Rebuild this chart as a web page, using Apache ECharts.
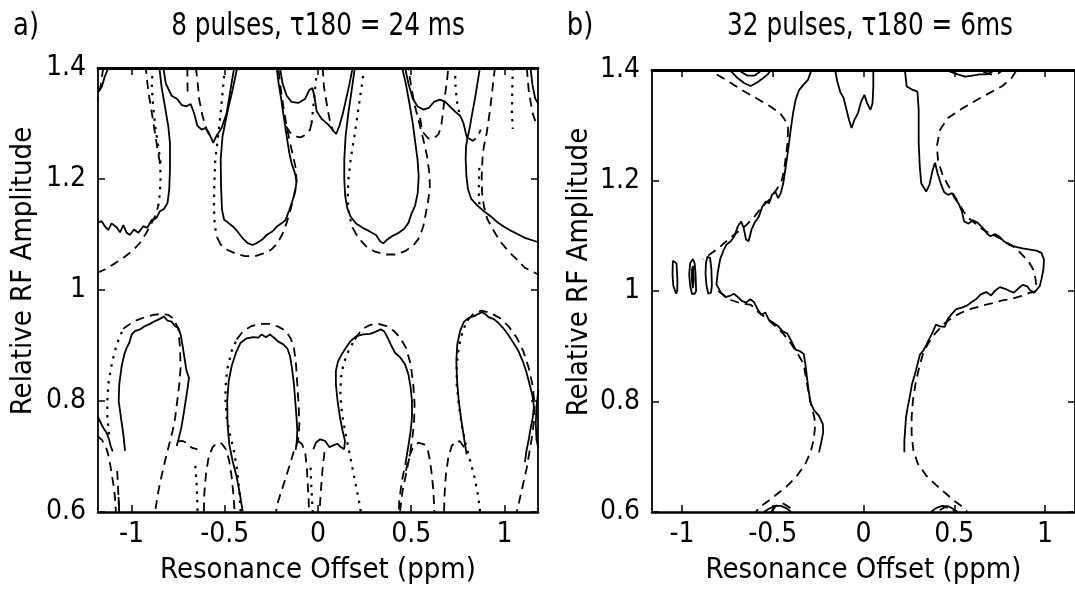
<!DOCTYPE html>
<html>
<head>
<meta charset="utf-8">
<title>Relative RF amplitude vs resonance offset</title>
<script src="https://cdn.jsdelivr.net/npm/echarts@6.0.0/dist/echarts.min.js"></script>
<style>
    html, body { margin: 0; padding: 0; background: #fff; }
    #chart { width: 1075px; height: 590px; }
</style>
</head>
<body>
<div id="chart"></div>
<script>
    // ticks
    const xTicks = [-1, -0.5, 0, 0.5, 1];
    const yTicks = [0.6, 0.8, 1, 1.2, 1.4];

    // ---- panel a) 8 pulses : upper half ----
    const aSolidCornerTL = [[-1.125, 1.40], [-1.143, 1.385], [-1.160, 1.366], [-1.184, 1.355]];
    const aDashCornerTL = [[-1.152, 1.40], [-1.165, 1.37], [-1.184, 1.34]];
    const aSolidEdgeLeft = [[-1.184, 1.121], [-1.160, 1.124], [-1.143, 1.115], [-1.125, 1.108], [-1.107, 1.120], [-1.080, 1.113], [-1.062, 1.104], [-1.044, 1.117], [-1.026, 1.103], [-1.009, 1.099], [-0.987, 1.109], [-0.964, 1.103], [-0.937, 1.115], [-0.916, 1.112], [-0.892, 1.126], [-0.866, 1.130], [-0.848, 1.142], [-0.826, 1.146], [-0.807, 1.157], [-0.798, 1.181], [-0.794, 1.217], [-0.794, 1.265], [-0.803, 1.295], [-0.821, 1.331], [-0.839, 1.366], [-0.851, 1.401]];
    const aSolidV1 = [[-0.830, 1.401], [-0.816, 1.372], [-0.785, 1.350], [-0.755, 1.344], [-0.730, 1.333], [-0.705, 1.331], [-0.683, 1.335], [-0.665, 1.319], [-0.647, 1.296], [-0.624, 1.289], [-0.605, 1.292], [-0.587, 1.284], [-0.569, 1.271], [-0.562, 1.265], [-0.544, 1.278], [-0.517, 1.292], [-0.490, 1.319], [-0.472, 1.355], [-0.458, 1.384], [-0.449, 1.401]];
    const aSolidHang1 = [[-0.433, 1.401], [-0.458, 1.361], [-0.487, 1.319], [-0.512, 1.277], [-0.522, 1.235], [-0.520, 1.187], [-0.515, 1.145], [-0.504, 1.127], [-0.481, 1.121], [-0.458, 1.115], [-0.433, 1.106], [-0.406, 1.094], [-0.379, 1.085], [-0.352, 1.081], [-0.326, 1.085], [-0.299, 1.091], [-0.272, 1.100], [-0.243, 1.106], [-0.218, 1.115], [-0.192, 1.121], [-0.174, 1.126], [-0.156, 1.142], [-0.138, 1.160], [-0.122, 1.178], [-0.115, 1.196], [-0.125, 1.212], [-0.140, 1.226], [-0.154, 1.247], [-0.168, 1.277], [-0.183, 1.310], [-0.197, 1.343], [-0.211, 1.372], [-0.222, 1.401]];
    const aSolidV2 = [[-0.204, 1.401], [-0.190, 1.372], [-0.168, 1.350], [-0.142, 1.339], [-0.106, 1.337], [-0.070, 1.344], [-0.047, 1.360], [-0.030, 1.364], [-0.020, 1.350], [-0.007, 1.322], [0.020, 1.308], [0.055, 1.298], [0.082, 1.287], [0.097, 1.281], [0.114, 1.295], [0.132, 1.316], [0.150, 1.343], [0.168, 1.370], [0.186, 1.401]];
    const aSolidHang2 = [[0.198, 1.401], [0.181, 1.361], [0.163, 1.319], [0.148, 1.277], [0.141, 1.235], [0.141, 1.199], [0.146, 1.169], [0.157, 1.148], [0.175, 1.132], [0.204, 1.120], [0.240, 1.112], [0.275, 1.106], [0.311, 1.099], [0.333, 1.088], [0.350, 1.084], [0.368, 1.090], [0.397, 1.097], [0.433, 1.103], [0.461, 1.110], [0.485, 1.121], [0.502, 1.138], [0.520, 1.151], [0.535, 1.175], [0.540, 1.205], [0.534, 1.235], [0.522, 1.265], [0.508, 1.301], [0.490, 1.337], [0.472, 1.370], [0.451, 1.401]];
    const aSolidV3 = [[0.467, 1.401], [0.485, 1.372], [0.508, 1.345], [0.533, 1.331], [0.565, 1.325], [0.594, 1.328], [0.622, 1.339], [0.654, 1.343], [0.683, 1.339], [0.712, 1.329], [0.737, 1.321], [0.762, 1.314], [0.780, 1.301], [0.794, 1.281], [0.801, 1.272], [0.812, 1.289], [0.826, 1.316], [0.844, 1.349], [0.858, 1.378], [0.869, 1.401]];
    const aSolidEdgeRight = [[0.801, 1.272], [0.794, 1.259], [0.792, 1.235], [0.796, 1.205], [0.805, 1.181], [0.822, 1.164], [0.855, 1.152], [0.890, 1.142], [0.926, 1.133], [0.962, 1.122], [0.998, 1.114], [1.039, 1.106], [1.075, 1.100], [1.110, 1.094], [1.182, 1.086]];
    const aSolidCornerTR = [[1.14, 1.40], [1.15, 1.37], [1.165, 1.345], [1.182, 1.335]];
    const aDotCornerTR = [[1.045, 1.40], [1.042, 1.36], [1.04, 1.32], [1.045, 1.29]];
    const aDashCornerTR = [[1.12, 1.40], [1.13, 1.36], [1.15, 1.32], [1.17, 1.30], [1.182, 1.295]];

    const aDashArcTL = [[-1.184, 1.031], [-1.143, 1.037], [-1.089, 1.048], [-1.036, 1.060], [-0.991, 1.072], [-0.955, 1.085], [-0.926, 1.100], [-0.901, 1.115], [-0.874, 1.133], [-0.857, 1.151]];
    const aDotArcTL = [[-0.857, 1.151], [-0.848, 1.175], [-0.844, 1.205], [-0.848, 1.229]];
    const aDashUpTL = [[-0.848, 1.229], [-0.866, 1.265], [-0.880, 1.295], [-0.894, 1.325], [-0.909, 1.355], [-0.919, 1.384], [-0.923, 1.401]];
    const aDotUpTL = [[-0.887, 1.401], [-0.891, 1.366], [-0.884, 1.331], [-0.873, 1.295], [-0.857, 1.259], [-0.844, 1.229]];
    const aDashGap1a = [[-0.701, 1.401], [-0.700, 1.37], [-0.699, 1.35]];
    const aDashGap1b = [[-0.655, 1.401], [-0.647, 1.378], [-0.637, 1.343], [-0.619, 1.313], [-0.597, 1.289], [-0.571, 1.271]];
    const aDotHang1 = [[-0.499, 1.401], [-0.512, 1.355], [-0.526, 1.307], [-0.540, 1.265], [-0.551, 1.235], [-0.556, 1.193], [-0.558, 1.151], [-0.554, 1.115], [-0.540, 1.094]];
    const aDashHang1 = [[-0.540, 1.094], [-0.522, 1.082], [-0.490, 1.073], [-0.445, 1.066], [-0.392, 1.061], [-0.338, 1.061], [-0.290, 1.066], [-0.249, 1.073], [-0.218, 1.084], [-0.192, 1.100], [-0.168, 1.121], [-0.147, 1.145], [-0.129, 1.169], [-0.115, 1.193], [-0.118, 1.217], [-0.133, 1.241], [-0.150, 1.265], [-0.168, 1.295], [-0.186, 1.331], [-0.201, 1.366], [-0.213, 1.401]];
    const aDashGap2 = [[-0.172, 1.295], [-0.150, 1.284], [-0.124, 1.277], [-0.093, 1.275], [-0.064, 1.280], [-0.043, 1.289], [-0.034, 1.301]];
    const aDotGap2 = [[-0.034, 1.301], [-0.025, 1.331], [-0.016, 1.361], [-0.007, 1.390]];
    const aDashGap2b = [[0.025, 1.401], [0.032, 1.366], [0.046, 1.337], [0.064, 1.304], [0.082, 1.286]];
    const aDotHang2 = [[0.247, 1.401], [0.234, 1.366], [0.216, 1.325], [0.195, 1.277], [0.175, 1.235], [0.163, 1.199], [0.159, 1.163], [0.168, 1.133], [0.186, 1.112]];
    const aDashHang2 = [[0.186, 1.112], [0.216, 1.094], [0.257, 1.079], [0.306, 1.069], [0.359, 1.064], [0.413, 1.064], [0.467, 1.070], [0.511, 1.080], [0.543, 1.094], [0.565, 1.115], [0.579, 1.139], [0.592, 1.163], [0.600, 1.187], [0.597, 1.211], [0.585, 1.241], [0.565, 1.271], [0.543, 1.301], [0.520, 1.331], [0.500, 1.366], [0.485, 1.401]];
    const aDashGap3 = [[0.547, 1.310], [0.561, 1.285], [0.592, 1.273], [0.622, 1.273], [0.647, 1.281], [0.662, 1.298], [0.672, 1.325], [0.683, 1.355], [0.694, 1.384], [0.699, 1.401]];
    const aDotGap3 = [[0.735, 1.401], [0.737, 1.37], [0.745, 1.34], [0.76, 1.315]];
    const aDashCurlV3 = [[0.806, 1.274], [0.830, 1.269], [0.855, 1.275], [0.873, 1.289]];
    const aDashHang3 = [[0.949, 1.401], [0.937, 1.366], [0.923, 1.325], [0.905, 1.283], [0.890, 1.259], [0.883, 1.241], [0.878, 1.205], [0.880, 1.175], [0.890, 1.151], [0.908, 1.128], [0.940, 1.108], [0.976, 1.088], [1.021, 1.070], [1.066, 1.055], [1.110, 1.040], [1.182, 1.028]];
    const aDotHang3 = [[0.865, 1.22], [0.862, 1.18], [0.866, 1.15]];

    // ---- panel a) lower half ----
    const aSolidLobe1 = [[-1.035, 0.710], [-1.044, 0.740], [-1.057, 0.770], [-1.069, 0.800], [-1.066, 0.830], [-1.053, 0.863], [-1.039, 0.884], [-1.026, 0.896], [-1.012, 0.905], [-0.999, 0.920], [-0.982, 0.926], [-0.955, 0.929], [-0.928, 0.935], [-0.901, 0.939], [-0.874, 0.944], [-0.848, 0.948], [-0.826, 0.952], [-0.808, 0.945], [-0.785, 0.943], [-0.767, 0.935], [-0.749, 0.932], [-0.737, 0.920], [-0.726, 0.899], [-0.715, 0.875], [-0.705, 0.854], [-0.692, 0.842], [-0.699, 0.824], [-0.710, 0.800], [-0.721, 0.776], [-0.733, 0.752], [-0.748, 0.731], [-0.758, 0.719]];
    const aSolidEdgeBL = [[-1.184, 0.773], [-1.170, 0.764], [-1.152, 0.752], [-1.134, 0.743], [-1.121, 0.731], [-1.112, 0.719], [-1.101, 0.709]];
    const aSolidStubBL = [[-1.07, 0.627], [-1.066, 0.60]];
    const aSolidLobe2 = [[-0.404, 0.601], [-0.419, 0.632], [-0.436, 0.663], [-0.458, 0.692], [-0.476, 0.722], [-0.485, 0.758], [-0.487, 0.800], [-0.479, 0.836], [-0.463, 0.863], [-0.440, 0.887], [-0.415, 0.905], [-0.383, 0.913], [-0.347, 0.915], [-0.320, 0.914], [-0.302, 0.920], [-0.279, 0.915], [-0.258, 0.920], [-0.236, 0.914], [-0.213, 0.907], [-0.186, 0.902], [-0.165, 0.895], [-0.150, 0.881], [-0.140, 0.860], [-0.129, 0.830], [-0.122, 0.800], [-0.115, 0.770], [-0.111, 0.746], [-0.115, 0.722], [-0.120, 0.712]];
    const aSolidBump = [[-0.025, 0.713], [-0.011, 0.725], [0.011, 0.731], [0.038, 0.728], [0.061, 0.717], [0.082, 0.720], [0.104, 0.723], [0.122, 0.717], [0.140, 0.713]];
    const aSolidLobe3 = [[0.140, 0.713], [0.145, 0.728], [0.132, 0.746], [0.118, 0.770], [0.105, 0.800], [0.096, 0.830], [0.096, 0.854], [0.107, 0.871], [0.127, 0.884], [0.150, 0.896], [0.175, 0.908], [0.207, 0.917], [0.243, 0.920], [0.279, 0.921], [0.311, 0.925], [0.336, 0.929], [0.354, 0.926], [0.372, 0.915], [0.390, 0.902], [0.413, 0.887], [0.440, 0.879], [0.467, 0.866], [0.485, 0.848], [0.497, 0.824], [0.504, 0.800], [0.504, 0.770], [0.497, 0.746], [0.486, 0.722], [0.476, 0.701]];
    const aSolidLobe4 = [[0.797, 0.704], [0.783, 0.734], [0.769, 0.764], [0.755, 0.800], [0.746, 0.836], [0.742, 0.872], [0.747, 0.902], [0.762, 0.926], [0.783, 0.943], [0.810, 0.950], [0.837, 0.953], [0.860, 0.957], [0.878, 0.960], [0.896, 0.957], [0.915, 0.951], [0.940, 0.948], [0.967, 0.941], [0.994, 0.931], [1.021, 0.919], [1.048, 0.905], [1.075, 0.890], [1.098, 0.872], [1.116, 0.854], [1.135, 0.830], [1.150, 0.810], [1.158, 0.790], [1.152, 0.770], [1.140, 0.750], [1.130, 0.730], [1.118, 0.710], [1.110, 0.690]];
    const aSolidEdgeBR = [[1.182, 0.82], [1.172, 0.79], [1.168, 0.76], [1.172, 0.73], [1.182, 0.715]];

    const aDotLobe1Left = [[-1.12, 0.74], [-1.13, 0.77], [-1.13, 0.80], [-1.125, 0.83], [-1.11, 0.86], [-1.09, 0.89], [-1.07, 0.91], [-1.045, 0.93]];
    const aDashLobe1 = [[-1.045, 0.93], [-0.991, 0.943], [-0.937, 0.950], [-0.883, 0.955], [-0.839, 0.957], [-0.803, 0.955], [-0.773, 0.948], [-0.749, 0.929], [-0.740, 0.896], [-0.737, 0.860], [-0.744, 0.830], [-0.755, 0.800], [-0.766, 0.770], [-0.780, 0.746], [-0.798, 0.722], [-0.816, 0.698], [-0.833, 0.674], [-0.848, 0.651], [-0.862, 0.627], [-0.873, 0.601]];
    const aDashEdgeBL = [[-1.184, 0.737], [-1.159, 0.730], [-1.137, 0.717], [-1.121, 0.698], [-1.109, 0.674], [-1.098, 0.651], [-1.089, 0.627], [-1.084, 0.601]];
    const aDashEdgeBL2 = [[-1.077, 0.674], [-1.072, 0.64], [-1.066, 0.601]];
    const aDashBridge1 = [[-0.755, 0.727], [-0.726, 0.728], [-0.701, 0.724], [-0.678, 0.716], [-0.647, 0.713]];
    const aDotLeg1 = [[-0.658, 0.683], [-0.651, 0.651], [-0.647, 0.615], [-0.646, 0.60]];
    const aDashArchA = [[-0.612, 0.601], [-0.610, 0.632], [-0.601, 0.668], [-0.587, 0.698], [-0.565, 0.717], [-0.540, 0.725], [-0.515, 0.723], [-0.494, 0.713], [-0.476, 0.692], [-0.463, 0.663], [-0.454, 0.632], [-0.447, 0.601]];
    const aDotLobe2Left = [[-0.415, 0.601], [-0.422, 0.639], [-0.433, 0.674], [-0.451, 0.710], [-0.472, 0.740], [-0.490, 0.770], [-0.497, 0.806], [-0.494, 0.836], [-0.485, 0.860], [-0.463, 0.890], [-0.436, 0.911]];
    const aDashLobe2 = [[-0.436, 0.911], [-0.401, 0.926], [-0.356, 0.935], [-0.308, 0.939], [-0.258, 0.939], [-0.213, 0.934], [-0.172, 0.926], [-0.147, 0.913], [-0.129, 0.896], [-0.118, 0.866], [-0.111, 0.830], [-0.104, 0.794], [-0.100, 0.758], [-0.107, 0.728], [-0.129, 0.710], [-0.150, 0.686], [-0.172, 0.663], [-0.195, 0.639], [-0.213, 0.620], [-0.225, 0.601]];
    const aDashMid1 = [[-0.107, 0.728], [-0.085, 0.722], [-0.068, 0.705], [-0.060, 0.68], [-0.055, 0.65], [-0.050, 0.62], [-0.048, 0.60]];
    const aDotMid = [[-0.04, 0.68], [-0.035, 0.64], [-0.028, 0.60]];
    const aDashMid2 = [[0.035, 0.708], [0.025, 0.68], [0.018, 0.65], [0.012, 0.62], [0.008, 0.60]];
    const aDotLobe3Left = [[0.229, 0.601], [0.216, 0.627], [0.198, 0.656], [0.181, 0.686], [0.163, 0.716], [0.145, 0.746], [0.129, 0.776], [0.120, 0.812], [0.123, 0.842], [0.136, 0.866], [0.163, 0.890], [0.198, 0.911]];
    const aDashLobe3 = [[0.198, 0.911], [0.234, 0.929], [0.279, 0.937], [0.324, 0.939], [0.368, 0.935], [0.408, 0.926], [0.440, 0.914], [0.472, 0.896], [0.497, 0.866], [0.511, 0.830], [0.518, 0.794], [0.515, 0.758], [0.504, 0.728], [0.490, 0.698], [0.472, 0.668], [0.454, 0.639], [0.440, 0.601]];
    const aDashLobe3Tail = [[0.476, 0.701], [0.467, 0.683], [0.454, 0.663], [0.443, 0.639], [0.436, 0.620], [0.433, 0.601]];
    const aDashArchB = [[0.472, 0.674], [0.486, 0.698], [0.508, 0.715], [0.538, 0.725], [0.569, 0.722], [0.590, 0.710], [0.601, 0.692], [0.610, 0.668], [0.619, 0.639], [0.624, 0.601]];
    const aDashArchC = [[0.676, 0.601], [0.679, 0.632], [0.686, 0.668], [0.699, 0.698], [0.717, 0.719], [0.740, 0.728], [0.762, 0.727], [0.779, 0.719], [0.794, 0.707]];
    const aDotLobe4Left = [[0.869, 0.601], [0.860, 0.627], [0.842, 0.659], [0.819, 0.689], [0.794, 0.719], [0.772, 0.755], [0.755, 0.794], [0.744, 0.830], [0.744, 0.866], [0.755, 0.896], [0.776, 0.926], [0.801, 0.945]];
    const aDashLobe4 = [[0.801, 0.945], [0.833, 0.957], [0.878, 0.963], [0.923, 0.959], [0.973, 0.950], [1.021, 0.935], [1.066, 0.914], [1.101, 0.890], [1.130, 0.860], [1.150, 0.830], [1.160, 0.800], [1.160, 0.770], [1.150, 0.740], [1.135, 0.710], [1.120, 0.680], [1.100, 0.650], [1.080, 0.620], [1.066, 0.600]];

    // ---- panel b) 32 pulses ----
    const bSolidMain = [[-0.290, 1.397], [-0.306, 1.382], [-0.331, 1.373], [-0.356, 1.363], [-0.374, 1.346], [-0.388, 1.322], [-0.401, 1.292], [-0.410, 1.268], [-0.420, 1.244], [-0.431, 1.219], [-0.442, 1.195], [-0.456, 1.177], [-0.470, 1.168], [-0.486, 1.180], [-0.504, 1.174], [-0.520, 1.159], [-0.538, 1.162], [-0.558, 1.152], [-0.576, 1.135], [-0.599, 1.124], [-0.617, 1.111], [-0.633, 1.090], [-0.647, 1.093], [-0.660, 1.114], [-0.674, 1.126], [-0.692, 1.117], [-0.710, 1.100], [-0.731, 1.090], [-0.755, 1.084], [-0.773, 1.072], [-0.790, 1.057], [-0.803, 1.033], [-0.810, 1.012], [-0.803, 1.009], [-0.785, 0.997], [-0.760, 0.989], [-0.737, 0.991], [-0.714, 0.995], [-0.692, 0.989], [-0.671, 0.982], [-0.647, 0.979], [-0.624, 0.985], [-0.603, 0.980], [-0.585, 0.968], [-0.563, 0.957], [-0.540, 0.961], [-0.522, 0.948], [-0.495, 0.942], [-0.469, 0.936], [-0.445, 0.927], [-0.420, 0.923], [-0.397, 0.909], [-0.374, 0.894], [-0.349, 0.891], [-0.329, 0.886], [-0.320, 0.867], [-0.311, 0.843], [-0.302, 0.819], [-0.292, 0.798], [-0.272, 0.784], [-0.245, 0.774], [-0.224, 0.759], [-0.222, 0.744], [-0.233, 0.726], [-0.245, 0.708]];
    const bDashDiag = [[-0.808, 1.392], [-0.728, 1.376], [-0.656, 1.361], [-0.585, 1.348], [-0.513, 1.334], [-0.460, 1.322], [-0.433, 1.310], [-0.415, 1.295]];
    const bDashUpper = [[-0.415, 1.295], [-0.418, 1.270], [-0.425, 1.250], [-0.437, 1.220], [-0.450, 1.200], [-0.480, 1.183], [-0.520, 1.165], [-0.560, 1.152], [-0.600, 1.135], [-0.650, 1.118], [-0.700, 1.105], [-0.750, 1.092], [-0.790, 1.080], [-0.830, 1.070], [-0.860, 1.063], [-0.885, 1.058]];
    const bDashLower = [[-0.800, 1.000], [-0.740, 0.985], [-0.680, 0.978], [-0.620, 0.975], [-0.580, 0.962], [-0.540, 0.952], [-0.490, 0.938], [-0.440, 0.922], [-0.400, 0.905], [-0.360, 0.885], [-0.330, 0.868], [-0.315, 0.840], [-0.300, 0.810], [-0.285, 0.790], [-0.270, 0.770], [-0.268, 0.750], [-0.275, 0.730], [-0.290, 0.710], [-0.320, 0.687], [-0.370, 0.664], [-0.424, 0.646], [-0.478, 0.632], [-0.528, 0.619], [-0.567, 0.610], [-0.594, 0.600]];
    const bSolidBlobBL = [[-0.55, 0.600], [-0.52, 0.606], [-0.49, 0.611], [-0.455, 0.611], [-0.42, 0.606], [-0.40, 0.600]];
    const bDashBlobBL = [[-0.51, 0.600], [-0.48, 0.612], [-0.44, 0.615], [-0.40, 0.607], [-0.385, 0.600]];
    const bSolidTopBlob = [[-0.728, 1.397], [-0.692, 1.385], [-0.656, 1.376], [-0.621, 1.371], [-0.588, 1.377], [-0.558, 1.384], [-0.528, 1.392], [-0.517, 1.397]];
    const bSolidTopBlobIn = [[-0.676, 1.397], [-0.64, 1.390], [-0.60, 1.390], [-0.57, 1.397]];
    const bLoop1 = [[-1.050, 1.055], [-1.040, 1.058], [-1.030, 1.050], [-1.025, 1.020], [-1.026, 1.000], [-1.032, 0.995], [-1.042, 0.996], [-1.048, 1.010], [-1.052, 1.030], [-1.050, 1.055]];
    const bLoop2 = [[-0.955, 1.050], [-0.940, 1.058], [-0.930, 1.050], [-0.925, 1.030], [-0.922, 1.000], [-0.930, 0.995], [-0.945, 0.995], [-0.955, 1.010], [-0.960, 1.030], [-0.955, 1.050]];
    const bLoop2In = [[-0.945, 1.040], [-0.938, 1.045], [-0.935, 1.020], [-0.940, 1.005], [-0.945, 1.020], [-0.945, 1.040]];
    const bLoop3 = [[-0.868, 1.050], [-0.860, 1.062], [-0.845, 1.060], [-0.838, 1.040], [-0.835, 1.010], [-0.840, 0.997], [-0.855, 0.995], [-0.865, 1.010], [-0.870, 1.030], [-0.868, 1.050]];
    const bSolidTopCenter = [[-0.156, 1.40], [-0.145, 1.38], [-0.128, 1.36], [-0.11, 1.35], [-0.095, 1.33], [-0.08, 1.31], [-0.066, 1.295], [-0.05, 1.31], [-0.03, 1.322], [-0.013, 1.343], [0.005, 1.355], [0.02, 1.34], [0.038, 1.328], [0.05, 1.34], [0.054, 1.37], [0.054, 1.40]];
    const bSolidRight = [[0.229, 1.397], [0.238, 1.370], [0.265, 1.365], [0.297, 1.361], [0.304, 1.328], [0.304, 1.268], [0.310, 1.225], [0.318, 1.195], [0.345, 1.180], [0.363, 1.192], [0.381, 1.219], [0.394, 1.232], [0.408, 1.213], [0.426, 1.194], [0.444, 1.179], [0.465, 1.174], [0.488, 1.177], [0.506, 1.166], [0.524, 1.158], [0.542, 1.144], [0.554, 1.126], [0.578, 1.122], [0.604, 1.128], [0.631, 1.123], [0.658, 1.114], [0.680, 1.104], [0.699, 1.099], [0.724, 1.103], [0.747, 1.099], [0.774, 1.090], [0.805, 1.083], [0.840, 1.080], [0.876, 1.077], [0.917, 1.075], [0.953, 1.073], [0.980, 1.069], [0.994, 1.057], [0.991, 1.039], [0.980, 1.021], [0.971, 1.009], [0.962, 1.009], [0.941, 0.997], [0.919, 1.001], [0.900, 1.009], [0.876, 1.011], [0.851, 1.004], [0.828, 0.997], [0.805, 1.000], [0.780, 1.004], [0.751, 1.007], [0.726, 1.001], [0.703, 0.992], [0.676, 0.998], [0.646, 0.994], [0.619, 0.985], [0.596, 0.980], [0.572, 0.974], [0.542, 0.970], [0.511, 0.967], [0.488, 0.959], [0.465, 0.950], [0.447, 0.935], [0.422, 0.936], [0.399, 0.939], [0.383, 0.927], [0.365, 0.915], [0.347, 0.903], [0.329, 0.892], [0.311, 0.885], [0.297, 0.867], [0.283, 0.849], [0.267, 0.831], [0.254, 0.807], [0.243, 0.789], [0.234, 0.771], [0.229, 0.747], [0.225, 0.729], [0.225, 0.708]];
    const bDashRight = [[0.840, 1.398], [0.815, 1.385], [0.765, 1.371], [0.703, 1.360], [0.626, 1.346], [0.547, 1.331], [0.465, 1.313], [0.422, 1.292], [0.404, 1.262], [0.411, 1.235], [0.434, 1.212], [0.461, 1.194], [0.494, 1.176], [0.524, 1.159], [0.551, 1.144], [0.578, 1.132], [0.613, 1.123], [0.658, 1.111], [0.712, 1.102], [0.765, 1.093], [0.819, 1.082], [0.864, 1.069], [0.908, 1.054], [0.935, 1.039], [0.948, 1.021], [0.953, 1.003], [0.940, 0.998], [0.917, 0.997], [0.872, 0.991], [0.819, 0.986], [0.765, 0.983], [0.712, 0.978], [0.649, 0.973], [0.596, 0.968], [0.547, 0.962], [0.497, 0.954], [0.444, 0.941], [0.394, 0.923], [0.358, 0.906], [0.329, 0.888], [0.306, 0.861], [0.286, 0.831], [0.272, 0.801], [0.265, 0.771], [0.265, 0.741], [0.275, 0.711], [0.300, 0.687], [0.345, 0.666], [0.399, 0.649], [0.452, 0.634], [0.501, 0.620], [0.542, 0.610], [0.572, 0.600]];
    const bSolidTopRight = [[0.47, 1.398], [0.52, 1.392], [0.56, 1.388], [0.60, 1.390], [0.64, 1.392], [0.68, 1.392], [0.71, 1.397]];
    const bDashTopRight = [[0.66, 1.396], [0.70, 1.392], [0.74, 1.393], [0.76, 1.398]];
    const bSolidBlobBR = [[0.372, 0.600], [0.399, 0.607], [0.434, 0.611], [0.470, 0.610], [0.497, 0.605], [0.519, 0.600]];
    const bDashBlobBR = [[0.42, 0.603], [0.45, 0.609], [0.48, 0.607], [0.50, 0.601]];

    const panelA = [
        ['solid', aSolidCornerTL], ['dash', aDashCornerTL], ['solid', aSolidEdgeLeft], ['solid', aSolidV1],
        ['solid', aSolidHang1], ['solid', aSolidV2], ['solid', aSolidHang2], ['solid', aSolidV3],
        ['solid', aSolidEdgeRight], ['solid', aSolidCornerTR], ['dot', aDotCornerTR], ['dash', aDashCornerTR],
        ['dash', aDashArcTL], ['dot', aDotArcTL], ['dash', aDashUpTL], ['dot', aDotUpTL],
        ['dash', aDashGap1a], ['dash', aDashGap1b], ['dot', aDotHang1], ['dash', aDashHang1],
        ['dash', aDashGap2], ['dot', aDotGap2], ['dash', aDashGap2b], ['dot', aDotHang2],
        ['dash', aDashHang2], ['dash', aDashGap3], ['dot', aDotGap3], ['dash', aDashCurlV3],
        ['dash', aDashHang3], ['dot', aDotHang3],
        ['solid', aSolidLobe1], ['solid', aSolidEdgeBL], ['solid', aSolidStubBL], ['solid', aSolidLobe2],
        ['solid', aSolidBump], ['solid', aSolidLobe3], ['solid', aSolidLobe4], ['solid', aSolidEdgeBR],
        ['dot', aDotLobe1Left], ['dash', aDashLobe1], ['dash', aDashEdgeBL], ['dash', aDashEdgeBL2],
        ['dash', aDashBridge1], ['dot', aDotLeg1], ['dash', aDashArchA], ['dot', aDotLobe2Left],
        ['dash', aDashLobe2], ['dash', aDashMid1], ['dot', aDotMid], ['dash', aDashMid2],
        ['dot', aDotLobe3Left], ['dash', aDashLobe3], ['dash', aDashLobe3Tail], ['dash', aDashArchB],
        ['dash', aDashArchC], ['dot', aDotLobe4Left], ['dash', aDashLobe4]
    ];
    const panelB = [
        ['solid', bSolidMain], ['dash', bDashDiag], ['dash', bDashUpper], ['dash', bDashLower],
        ['solid', bSolidBlobBL], ['dash', bDashBlobBL], ['solid', bSolidTopBlob], ['solid', bSolidTopBlobIn],
        ['solid', bLoop1], ['solid', bLoop2], ['solid', bLoop2In], ['solid', bLoop3],
        ['solid', bSolidTopCenter], ['solid', bSolidRight], ['dash', bDashRight],
        ['solid', bSolidTopRight], ['dash', bDashTopRight], ['solid', bSolidBlobBR], ['dash', bDashBlobBR]
    ];

    const FONT = '"DejaVu Sans Condensed", "Liberation Sans", sans-serif';
    const styles = {
        solid: { type: 'solid', width: 1.8 },
        dash: { type: [9, 6], width: 1.8 },
        dot: { type: [2.5, 6], width: 2.2 }
    };

    function makeSeries(curves, axisIndex) {
        return curves.map(([kind, pts]) => ({
            type: 'line',
            xAxisIndex: axisIndex,
            yAxisIndex: axisIndex,
            data: pts,
            symbol: 'none',
            silent: true,
            clip: true,
            lineStyle: { color: '#000', width: styles[kind].width, type: styles[kind].type }
        }));
    }

    function xAxes(gridIndex, min, max) {
        return [
            {
                type: 'value', gridIndex, position: 'bottom', min, max,
                name: 'Resonance Offset (ppm)', nameLocation: 'middle', nameGap: 44,
                nameTextStyle: { fontFamily: FONT, fontSize: 29, color: '#000' },
                axisLine: { onZero: false, lineStyle: { color: '#000', width: 2.5 } },
                axisTick: { inside: true, length: 7, customValues: xTicks, lineStyle: { color: '#000', width: 1.5 } },
                axisLabel: { customValues: xTicks, margin: 9, fontFamily: FONT, fontSize: 28, color: '#000' },
                splitLine: { show: false }
            },
            {
                type: 'value', gridIndex, position: 'top', min, max,
                axisLine: { onZero: false, lineStyle: { color: '#000', width: 2.8 } },
                axisTick: { inside: true, length: 7, customValues: xTicks, lineStyle: { color: '#000', width: 1.5 } },
                axisLabel: { show: false },
                splitLine: { show: false }
            }
        ];
    }

    // the axis title sits a little above the middle of the axis in the original
    function yAxes(gridIndex, nameGap) {
        return [
            {
                type: 'value', gridIndex, position: 'left', min: 0.6, max: 1.4,
                name: 'Relative RF Amplitude', nameLocation: 'middle', nameGap,
                nameTextStyle: { fontFamily: FONT, fontSize: 29, color: '#000', padding: [0, 0, 0, 38] },
                axisLine: { onZero: false, lineStyle: { color: '#000', width: 1.8 } },
                axisTick: { inside: true, length: 7, customValues: yTicks, lineStyle: { color: '#000', width: 1.5 } },
                axisLabel: { customValues: yTicks, margin: 12, fontFamily: FONT, fontSize: 28, color: '#000' },
                splitLine: { show: false }
            },
            {
                type: 'value', gridIndex, position: 'right', min: 0.6, max: 1.4,
                axisLine: { onZero: false, lineStyle: { color: '#000', width: 1.8 } },
                axisTick: { inside: true, length: 7, customValues: yTicks, lineStyle: { color: '#000', width: 1.5 } },
                axisLabel: { show: false },
                splitLine: { show: false }
            }
        ];
    }

    function label(text, x, size, squeeze) {
        return {
            type: 'text', x, y: 27, scaleX: squeeze,
            style: { text, font: size + 'px ' + FONT, fill: '#000', textAlign: 'center', textVerticalAlign: 'middle' }
        };
    }

    const chart = echarts.init(document.getElementById('chart'), null, { renderer: 'canvas' });

    const option = {
        animation: false,
        backgroundColor: '#fff',
        grid: [
            { left: 98, top: 68, width: 440, height: 445 },
            { left: 652, top: 70, width: 434, height: 443 }
        ],
        xAxis: [...xAxes(0, -1.18, 1.18), ...xAxes(1, -1.165, 1.165)],
        yAxis: [...yAxes(0, 60), ...yAxes(1, 58)],
        graphic: [
            label('a)', 26, 32, 0.9),
            label('8 pulses, τ180 = 24 ms', 318, 32, 0.86),
            label('b)', 580, 32, 0.9),
            label('32 pulses, τ180 = 6ms', 870, 32, 0.86)
        ],
        series: [...makeSeries(panelA, 0), ...makeSeries(panelB, 2)]
    };

    chart.setOption(option);
</script>
</body>
</html>
